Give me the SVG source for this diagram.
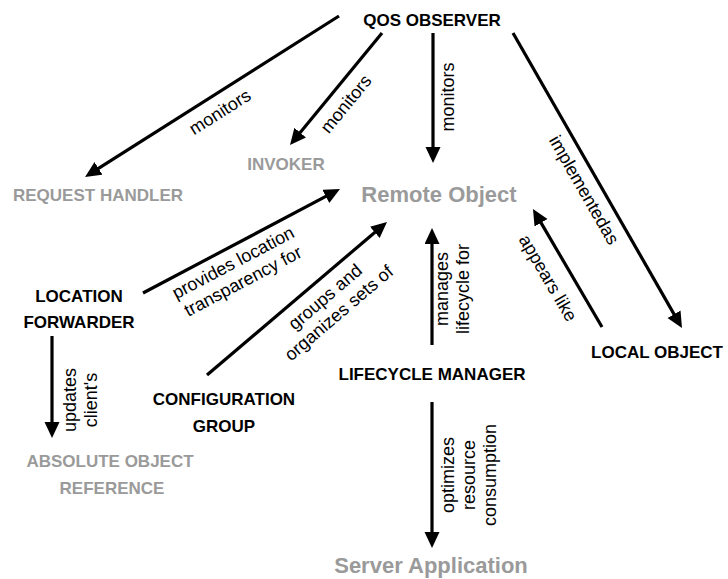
<svg xmlns="http://www.w3.org/2000/svg" width="728" height="579" viewBox="0 0 728 579">
  <style>
    .node { font-family: "Liberation Sans", Arial, sans-serif; font-weight: bold; font-size: 17px; fill: #000; text-anchor: middle; }
    .ghost { fill: #9a9a9a; }
    .big { font-size: 22px; }
    .lbl { font-family: "Liberation Sans", Arial, sans-serif; font-size: 18px; fill: #000; text-anchor: middle; }
    .edge { stroke: #000; stroke-width: 3.2; fill: none; marker-end: url(#head); }
  </style>
  <defs>
    <marker id="head" markerUnits="userSpaceOnUse" markerWidth="18" markerHeight="16" refX="8" refY="7.5" orient="auto">
      <path d="M0,0 L16,7.5 L0,15 z" fill="#000"/>
    </marker>
  </defs>
  <rect width="728" height="579" fill="#fff"/>

  <g id="connectors">
    <line class="edge" x1="339" y1="16" x2="91.8" y2="172.7"/>
    <line class="edge" x1="382" y1="33" x2="295.1" y2="138.8"/>
    <line class="edge" x1="433" y1="33" x2="433" y2="155"/>
    <line class="edge" x1="513" y1="33" x2="678" y2="321.1"/>
    <line class="edge" x1="143" y1="293" x2="332.9" y2="192.7"/>
    <line class="edge" x1="207" y1="375" x2="380.9" y2="227.2"/>
    <line class="edge" x1="432" y1="345" x2="432" y2="236"/>
    <line class="edge" x1="432" y1="402" x2="432" y2="540"/>
    <line class="edge" x1="602" y1="327" x2="537" y2="215.9"/>
    <line class="edge" x1="52" y1="336" x2="52" y2="430"/>

    <text class="lbl" transform="translate(220,112) rotate(-32.4)" y="6">monitors</text>
    <text class="lbl" transform="translate(346,104) rotate(-50.6)" y="6">monitors</text>
    <text class="lbl" transform="translate(448,97) rotate(-90)" y="6">monitors</text>
    <text class="lbl" transform="translate(584,190) rotate(60.2)" y="6">implementedas</text>
    <text class="lbl" transform="translate(548,278) rotate(59.7)" y="6">appears like</text>
    <text class="lbl" transform="translate(238,272) rotate(-27.8)"><tspan x="0" y="-4.5">provides location</tspan><tspan x="0" y="16.5">transparency for</tspan></text>
    <text class="lbl" transform="translate(332,305) rotate(-40.4)"><tspan x="0" y="-4.5">groups and</tspan><tspan x="0" y="16.5">organizes sets of</tspan></text>
    <text class="lbl" transform="translate(80.5,400) rotate(-90)"><tspan x="0" y="-4.5">updates</tspan><tspan x="0" y="16.5">client's</tspan></text>
    <text class="lbl" transform="translate(452.5,289) rotate(-90)"><tspan x="0" y="-4.5">manages</tspan><tspan x="0" y="16.5">lifecycle for</tspan></text>
    <text class="lbl" transform="translate(469,475) rotate(-90)"><tspan x="0" y="-15">optimizes</tspan><tspan x="0" y="6">resource</tspan><tspan x="0" y="27">consumption</tspan></text>
  </g>

  <g id="qos-observer"><text class="node" x="432" y="26">QOS OBSERVER</text></g>
  <g id="request-handler"><text class="node ghost" x="98" y="201">REQUEST HANDLER</text></g>
  <g id="invoker"><text class="node ghost" x="286" y="170">INVOKER</text></g>
  <g id="remote-object"><text class="node ghost big" x="439" y="202">Remote Object</text></g>
  <g id="location-forwarder"><text class="node" x="79"><tspan x="79" y="302">LOCATION</tspan><tspan x="79" y="328">FORWARDER</tspan></text></g>
  <g id="configuration-group"><text class="node"><tspan x="224" y="405">CONFIGURATION</tspan><tspan x="224" y="432">GROUP</tspan></text></g>
  <g id="lifecycle-manager"><text class="node" x="432" y="380">LIFECYCLE MANAGER</text></g>
  <g id="local-object"><text class="node" x="657" y="358">LOCAL OBJECT</text></g>
  <g id="absolute-object-reference"><text class="node ghost"><tspan x="110" y="467">ABSOLUTE OBJECT</tspan><tspan x="112" y="494">REFERENCE</tspan></text></g>
  <g id="server-application"><text class="node ghost big" x="431" y="573">Server Application</text></g>
</svg>
